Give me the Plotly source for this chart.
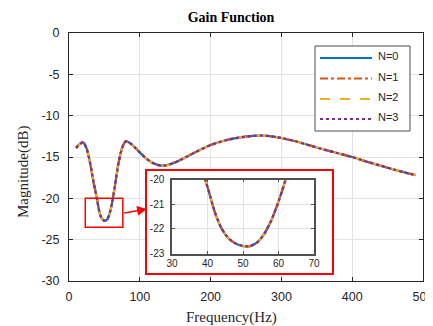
import plotly.graph_objects as go

# ---------------- data ----------------
freq = [10, 15, 20, 25, 30, 35, 38, 40, 42, 44,
        46, 48, 50, 52, 54, 56, 58, 60, 62, 65,
        70, 75, 80, 85, 90, 100, 110, 120, 130, 140,
        150, 160, 180, 200, 220, 240, 260, 270, 280, 300,
        320, 340, 360, 380, 400, 420, 440, 460, 480, 490]
gain_db = [-13.9, -13.45, -13.2, -14.0, -15.8, -18.2, -19.4, -20.3, -21.3, -22.0,
           -22.4, -22.6, -22.7, -22.7, -22.55, -22.2, -21.65, -20.9, -20.0, -18.4,
           -15.7, -13.9, -13.1, -13.25, -13.6, -14.45, -15.25, -15.8, -16.05, -15.95,
           -15.65, -15.25, -14.35, -13.55, -13.0, -12.65, -12.45, -12.4, -12.45, -12.7,
           -13.1, -13.6, -14.1, -14.55, -15.0, -15.55, -16.05, -16.55, -17.0, -17.2]
series_names = ["N=0", "N=1", "N=2", "N=3"]
x_ticks = [0, 100, 200, 300, 400, 500]
y_ticks = [0, -5, -10, -15, -20, -25, -30]
y_tick_text = ["0", "-5", "-10", "-15", "-20", "-25", "-30"]
inset_x_ticks = [30, 40, 50, 60, 70]
inset_y_ticks = [-20, -21, -22, -23]
inset_y_tick_text = ["-20", "-21", "-22", "-23"]

# ---------------- styles ----------------
colors = ["#0072BD", "#D95319", "#EDB120", "#7E2F8E"]
dashes = ["solid", "8px,3px,3px,3px", "10px,10px", "3px,3px"]
OFF = 8  # page body margin
W, H = 441, 326 - OFF
# plot area in page pixels: x 69..423, y 33..281
ML, MT, MB = 69 - OFF, 33 - OFF, 326 - 281
MR = W - (423 - OFF)
PW, PH = W - ML - MR, H - MT - MB


def px_x(px):
    return (px - OFF - ML) / PW


def px_y(py):
    return (H - MB - (py - OFF)) / PH


AX = "#262626"
GRID = "#E3E3E3"
INSET_AX = "#505050"
TICKFONT = dict(family="Liberation Sans, Arial", size=12.5, color="#262626")
INSETFONT = dict(family="Liberation Sans, Arial", size=10, color="#262626")
SERIF = "Liberation Serif, Times New Roman"

fig = go.Figure()

# main traces
for name, c, d in zip(series_names, colors, dashes):
    fig.add_trace(go.Scatter(x=freq, y=gain_db, mode="lines", name=name,
                             line=dict(color=c, width=2.2, dash=d, shape="spline", smoothing=0.5),
                             showlegend=False, xaxis="x", yaxis="y"))

# frame subplot (white box with red border that hosts the inset)
fig.add_trace(go.Scatter(x=[], y=[], xaxis="x2", yaxis="y2", showlegend=False))

# inset traces
for name, c, d in zip(series_names, colors, dashes):
    fig.add_trace(go.Scatter(x=freq, y=gain_db, mode="lines", name=name,
                             line=dict(color=c, width=2.2, dash=d, shape="spline", smoothing=0.5),
                             showlegend=False, xaxis="x3", yaxis="y3"))

fr_x = [px_x(147), px_x(332)]
fr_y = [px_y(273), px_y(171)]
in_x = [px_x(172), px_x(314)]
in_y = [px_y(253.5), px_y(179.5)]

fig.update_layout(
    width=W, height=H,
    margin=dict(l=ML, r=MR, t=MT, b=MB, autoexpand=False),
    paper_bgcolor="white", plot_bgcolor="white",
    showlegend=False,
    title=dict(text="<b>Gain Function</b>", x=px_x(231), xref="paper", xanchor="center",
               y=1 - (17 - OFF) / H, yanchor="middle", automargin=False,
               font=dict(family=SERIF, size=14, color="black")),
    xaxis=dict(domain=[0, 1], range=[0, 500], tickvals=x_ticks, ticks="inside", ticklen=4,
               tickcolor=AX, showline=True, linecolor=AX, linewidth=1, mirror="ticks",
               showgrid=True, gridcolor=GRID, zeroline=False, tickfont=TICKFONT,
               ticklabelstandoff=4, automargin=False),
    yaxis=dict(domain=[0, 1], range=[-30, 0], tickvals=y_ticks, ticktext=y_tick_text,
               ticks="inside", ticklen=4,
               tickcolor=AX, showline=True, linecolor=AX, linewidth=1, mirror="ticks",
               showgrid=True, gridcolor=GRID, zeroline=False, tickfont=TICKFONT,
               ticklabelstandoff=6, automargin=False),
    xaxis2=dict(domain=fr_x, anchor="y2", range=[0, 1], showline=True, mirror=True,
                linecolor="#FF0000", linewidth=1.5, showgrid=False, zeroline=False,
                showticklabels=False, ticks="", automargin=False),
    yaxis2=dict(domain=fr_y, anchor="x2", range=[0, 1], showline=True, mirror=True,
                linecolor="#FF0000", linewidth=1.5, showgrid=False, zeroline=False,
                showticklabels=False, ticks="", automargin=False),
    xaxis3=dict(domain=in_x, anchor="y3", range=[30, 70], tickvals=inset_x_ticks,
                ticks="inside", ticklen=3, tickcolor=INSET_AX, showline=True,
                linecolor=INSET_AX, linewidth=1.5, mirror="ticks", showgrid=True,
                gridcolor=GRID, zeroline=False, tickfont=INSETFONT, automargin=False),
    yaxis3=dict(domain=in_y, anchor="x3", range=[-23, -20], tickvals=inset_y_ticks,
                ticktext=inset_y_tick_text,
                ticks="inside", ticklen=3, tickcolor=INSET_AX, showline=True,
                linecolor=INSET_AX, linewidth=1.5, mirror="ticks", showgrid=True,
                gridcolor=GRID, zeroline=False, tickfont=INSETFONT,
                ticklabelstandoff=4, automargin=False),
)

# zoom rectangle on main axes
fig.add_shape(type="rect", xref="x", yref="y", x0=23, x1=76, y0=-23.5, y1=-20,
              line=dict(color="#FF0000", width=1.5), layer="above")

# arrow
fig.add_annotation(xref="x", yref="y", axref="x", ayref="y", x=110, y=-21.3, ax=76, ay=-21.8,
                   text="", showarrow=True, arrowhead=2, arrowsize=1.3, arrowwidth=1.5,
                   arrowcolor="#FF0000", standoff=0, startstandoff=0)

# axis titles
fig.add_annotation(xref="paper", yref="paper", x=px_x(231), y=px_y(317), text="Frequency(Hz)",
                   showarrow=False, xanchor="center", yanchor="middle",
                   font=dict(family=SERIF, size=15, color="#262626"))
fig.add_annotation(xref="paper", yref="paper", x=px_x(23), y=px_y(172), text="Magnitude(dB)",
                   textangle=-90, showarrow=False, xanchor="center", yanchor="middle",
                   font=dict(family=SERIF, size=15, color="#262626"))

# custom legend
fig.add_shape(type="rect", xref="paper", yref="paper", x0=px_x(315), x1=px_x(410),
              y0=px_y(131), y1=px_y(46), line=dict(color="#4D4D4D", width=1),
              fillcolor="white", layer="above")
leg_y = [58, 78.5, 99, 119]
for name, c, d, yy in zip(series_names, colors, dashes, leg_y):
    fig.add_shape(type="line", xref="paper", yref="paper", x0=px_x(320), x1=px_x(372),
                  y0=px_y(yy), y1=px_y(yy), line=dict(color=c, width=2.2, dash=d), layer="above")
    fig.add_annotation(xref="paper", yref="paper", x=px_x(376), y=px_y(yy - 2), text=name,
                       showarrow=False, xanchor="left", yanchor="middle",
                       font=dict(family="Liberation Sans, Arial", size=11, color="#262626"))

fig.write_html("out.html")
